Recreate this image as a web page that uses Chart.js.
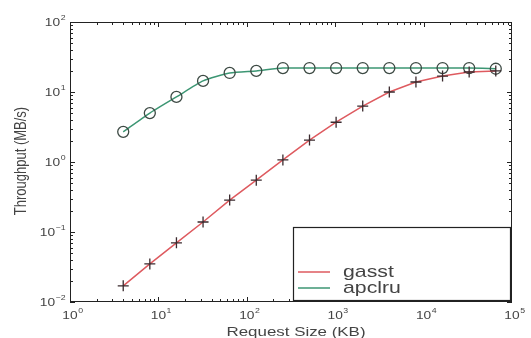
<!DOCTYPE html>
<html>
<head>
<meta charset="utf-8">
<script src="https://cdn.jsdelivr.net/npm/chart.js@4.4.1/dist/chart.umd.min.js"></script>
<style>
  html, body { margin: 0; background: #fff; }
  #wrap { width: 531px; height: 338px; }
</style>
</head>
<body>
<div id="wrap"><canvas id="chart"></canvas></div>
<script>
// Request sizes (KB) and throughput (MB/s)
const requestSize = [4, 8, 16, 32, 64, 128, 256, 512, 1024, 2048, 4096, 8192, 16384, 32768, 65536];
const gasst  = [0.017, 0.035, 0.07, 0.139, 0.286, 0.55, 1.07, 2.06, 3.7, 6.3, 10, 13.9, 16.9, 19.3, 20];
const apclru = [2.7, 5.0, 8.5, 14.4, 18.7, 20, 22, 22, 22, 22, 22, 22, 22, 22, 21.5];
const seriesNames = ['gasst', 'apclru'];

// decade exponents for tick labels
const xExp = [0, 1, 2, 3, 4, 5];
const yExp = [-2, -1, 0, 1, 2];

const TXT = '#444';
const FONT = "'Liberation Sans', Arial, sans-serif";
const RED = 'rgb(222,90,95)';
const GREEN = 'rgb(60,150,115)';

// stretched text, like the scanned original
function wideText(ctx, s, x, y, size, align, hs) {
  ctx.save();
  ctx.font = size + 'px ' + FONT;
  ctx.fillStyle = TXT;
  ctx.textBaseline = 'alphabetic';
  const w = ctx.measureText(s).width * hs;
  let x0 = x;
  if (align === 'center') x0 = x - w / 2;
  if (align === 'right') x0 = x - w;
  ctx.translate(x0, y);
  ctx.scale(hs, 1);
  ctx.fillText(s, 0, 0);
  ctx.restore();
  return w;
}

function powLabel(ctx, e, x, y, align) {
  // "10" plus small raised exponent
  ctx.save();
  ctx.font = '11px ' + FONT;
  const base = ctx.measureText('10').width * 1.25;
  ctx.font = '7px ' + FONT;
  const ex = ctx.measureText(String(e).replace('-', '\u2212')).width * 1.25;
  ctx.restore();
  let x0 = x;
  if (align === 'center') x0 = x - base / 2;
  if (align === 'right') x0 = x - base - ex;
  wideText(ctx, '10', x0, y, 11, 'left', 1.25);
  wideText(ctx, String(e).replace('-', '\u2212'), x0 + base + 0.5, y - 6, 7, 'left', 1.25);
}

const frame = {
  id: 'frame',
  afterDraw(chart) {
    const { ctx, chartArea: a, scales: { x, y } } = chart;
    ctx.save();
    ctx.strokeStyle = '#222';
    ctx.lineWidth = 1;
    ctx.strokeRect(a.left + 0.5, a.top + 0.5, a.right - a.left - 1, a.bottom - a.top - 1);

    // inward ticks on all four sides
    ctx.beginPath();
    for (let k = 0; k < 5; k++) {
      for (let m = 1; m <= 9; m++) {
        const px = Math.round(x.getPixelForValue(m * Math.pow(10, k))) + 0.5;
        const len = m === 1 ? 5 : 3;
        ctx.moveTo(px, a.bottom); ctx.lineTo(px, a.bottom - len);
        ctx.moveTo(px, a.top); ctx.lineTo(px, a.top + len);
      }
    }
    for (let k = -2; k < 2; k++) {
      for (let m = 1; m <= 9; m++) {
        const py = Math.round(y.getPixelForValue(m * Math.pow(10, k))) + 0.5;
        const len = m === 1 ? 5 : 3;
        ctx.moveTo(a.left, py); ctx.lineTo(a.left + len, py);
        ctx.moveTo(a.right, py); ctx.lineTo(a.right - len, py);
      }
    }
    ctx.stroke();

    // tick labels
    xExp.forEach(e => powLabel(ctx, e, x.getPixelForValue(Math.pow(10, e)), a.bottom + 17, 'center'));
    yExp.forEach(e => powLabel(ctx, e, a.left - 5, y.getPixelForValue(Math.pow(10, e)) + 4, 'right'));

    // axis titles
    wideText(ctx, 'Request Size (KB)', 296, 336, 13, 'center', 1.3);
    ctx.save();
    ctx.translate(26, 161);
    ctx.rotate(-Math.PI / 2);
    ctx.scale(1, 1.2);
    ctx.font = '13px ' + FONT;
    ctx.fillStyle = TXT;
    ctx.textAlign = 'center';
    ctx.fillText('Throughput (MB/s)', 0, 0);
    ctx.restore();

    // legend box inside the axes
    const lx = 293, ly = 227, lw = a.right - 2 - lx, lh = a.bottom - 2 - ly;
    ctx.fillStyle = '#fff';
    ctx.fillRect(lx, ly, lw, lh);
    ctx.strokeStyle = '#222';
    ctx.lineWidth = 1.2;
    ctx.strokeRect(lx + 0.5, ly + 0.5, lw, lh);
    const cols = [RED, GREEN];
    seriesNames.forEach((name, i) => {
      const yy = 272 + i * 16;
      ctx.strokeStyle = cols[i];
      ctx.lineWidth = 1.5;
      ctx.beginPath();
      ctx.moveTo(298, yy); ctx.lineTo(330, yy);
      ctx.stroke();
      wideText(ctx, name, 343, yy + 5, 17, 'left', 1.25);
    });
    ctx.restore();
  }
};

new Chart(document.getElementById('chart'), {
  type: 'line',
  data: {
    datasets: [
      {
        label: seriesNames[0],
        data: requestSize.map((v, i) => ({ x: v, y: gasst[i] })),
        borderColor: RED,
        borderWidth: 1.5,
        pointStyle: 'cross',
        pointRadius: 5.5,
        pointBorderColor: '#3a2a2e',
        pointBorderWidth: 1.3,
        tension: 0
      },
      {
        label: seriesNames[1],
        data: requestSize.map((v, i) => ({ x: v, y: apclru[i] })),
        borderColor: GREEN,
        borderWidth: 1.5,
        pointStyle: 'circle',
        pointRadius: 5.5,
        pointBorderColor: '#3d4a44',
        pointBackgroundColor: 'rgba(0,0,0,0)',
        pointBorderWidth: 1.3,
        tension: 0.2
      }
    ]
  },
  options: {
    responsive: true,
    maintainAspectRatio: false,
    animation: false,
    layout: { padding: { top: 22, right: 19, left: 0, bottom: 0 } },
    plugins: { legend: { display: false }, tooltip: { enabled: false } },
    scales: {
      x: {
        type: 'logarithmic', min: 1, max: 1e5,
        grid: { display: false }, border: { display: false },
        ticks: { display: false },
        afterFit: s => { s.height = 36; }
      },
      y: {
        type: 'logarithmic', min: 0.01, max: 100,
        grid: { display: false }, border: { display: false },
        ticks: { display: false },
        afterFit: s => { s.width = 70; }
      }
    }
  },
  plugins: [frame]
});
</script>
</body>
</html>
